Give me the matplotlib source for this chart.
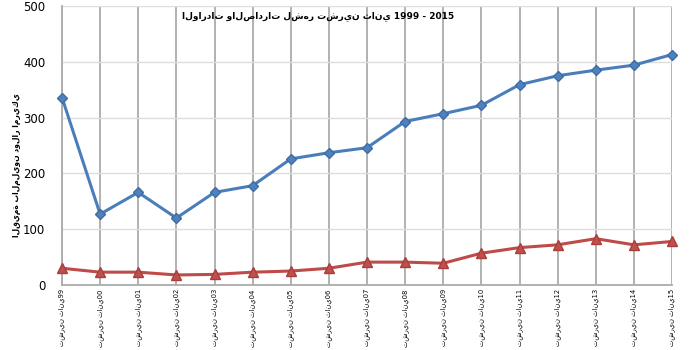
import matplotlib
matplotlib.use("Agg")
import matplotlib.pyplot as plt

years = ["99", "00", "01", "02", "03", "04", "05", "06", "07", "08",
         "09", "10", "11", "12", "13", "14", "15"]
tick_labels = ["تشرين ثاني" + y for y in years]
imports_vals = [336, 127, 166, 120, 166, 178, 226, 237, 246, 293,
                307, 322, 359, 375, 385, 394, 413]
exports_vals = [30, 23, 23, 18, 19, 23, 25, 30, 41, 41,
                39, 57, 67, 72, 83, 72, 78]
title = "الواردات والصادرات لشهر تشرين ثاني 1999 - 2015"
ylabel = "القيمة بالمليون دولار امريكي"
yticks = [0, 100, 200, 300, 400, 500]

plt.rcParams['font.family'] = ['DejaVu Sans']

fig = plt.figure(figsize=(7, 3.5), dpi=100)
ax = fig.add_axes([62/700, 65/350, 610/700, 279/350])

x = list(range(len(years)))
ax.plot(x, imports_vals, color='#4A7EBB', lw=2.2, marker='D', ms=5.5,
        mfc='#4F81BD', mec='#3E6DA6', zorder=3, clip_on=False)
ax.plot(x, exports_vals, color='#BE4B48', lw=2.2, marker='^', ms=7,
        mfc='#C0504D', mec='#A83D3A', zorder=3, clip_on=False)

ax.set_xlim(0, len(years) - 1)
ax.set_ylim(0, 500)
ax.set_yticks(yticks)
ax.set_xticks(x)
ax.set_xticklabels(tick_labels, rotation=90, fontsize=4.9)
ax.tick_params(axis='y', labelsize=8.5, length=0, pad=12)
ax.tick_params(axis='x', length=0, pad=3)

ax.yaxis.grid(True, color='#DDDDDD', lw=1)
ax.xaxis.grid(True, color='#ABABAB', lw=1.3)
ax.set_axisbelow(True)
for s in ['top', 'right']:
    ax.spines[s].set_visible(False)
ax.spines['left'].set_color('#ABABAB')
ax.spines['left'].set_linewidth(1.3)
ax.spines['bottom'].set_color('#ABABAB')
ax.spines['bottom'].set_linewidth(1.3)

fig.text(318/700, 1 - 16/350, title, ha='center', va='center',
         fontsize=6.5, fontweight='bold')
fig.text(17/700, 1 - 165/350, ylabel, ha='center', va='center',
         fontsize=5.5, fontweight='bold', rotation=90)

fig.savefig("out.png", dpi=100)
